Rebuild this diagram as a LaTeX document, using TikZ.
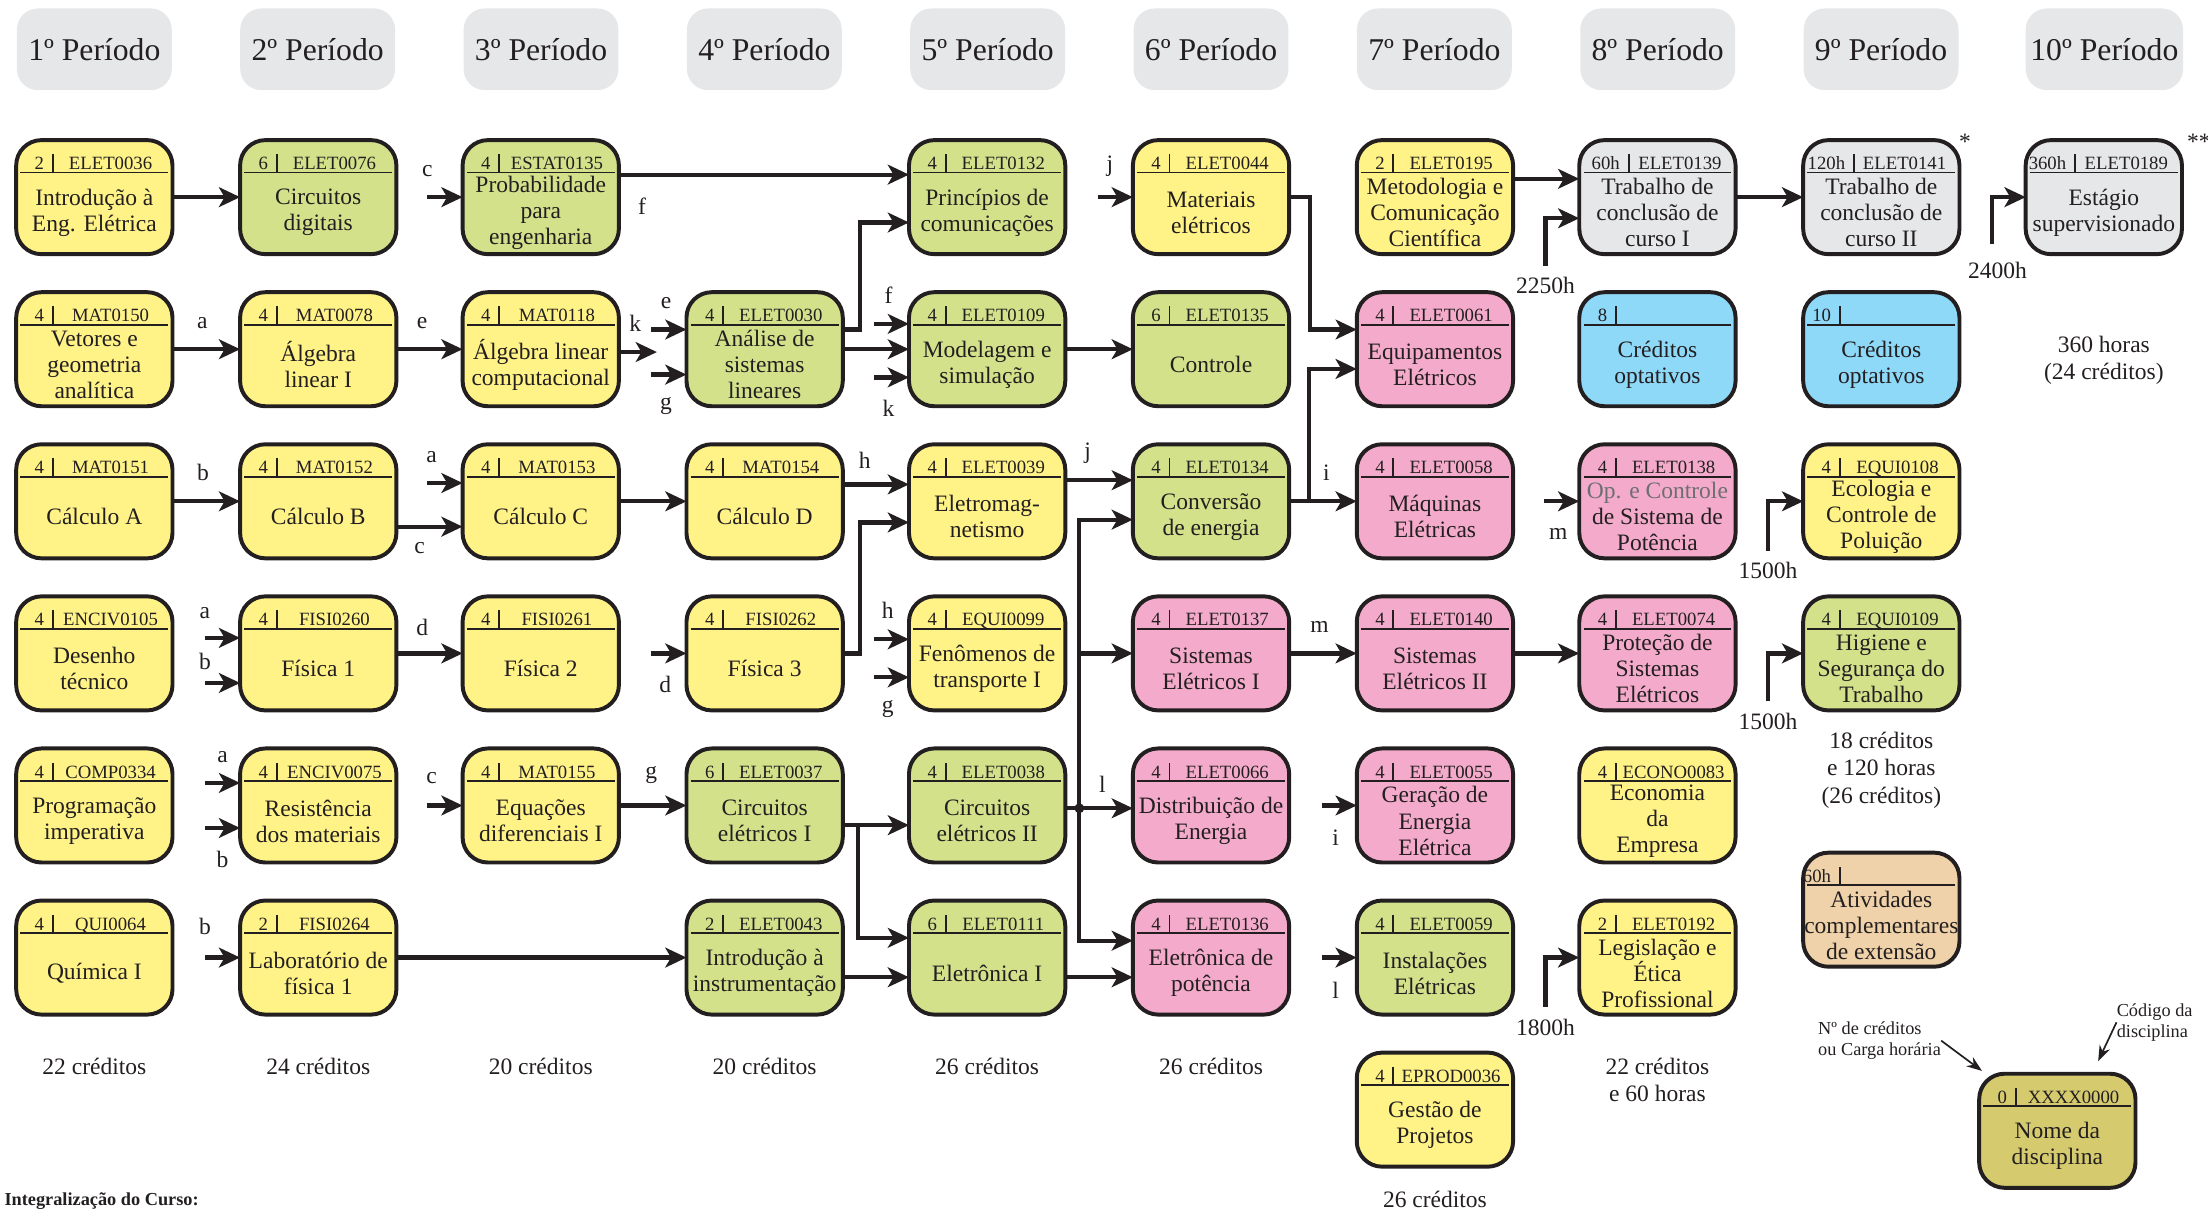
\documentclass[tikz,border=0pt]{standalone}
\usepackage{fontspec}
\setmainfont{Liberation Serif}
\usetikzlibrary{arrows.meta}
\definecolor{txt}{HTML}{231F20}
\definecolor{yel}{HTML}{FFF387}
\definecolor{grn}{HTML}{D3E18B}
\definecolor{pnk}{HTML}{F4ABCB}
\definecolor{blu}{HTML}{8ED8F8}
\definecolor{gry}{HTML}{E6E7E8}
\definecolor{bge}{HTML}{EFD2A9}
\definecolor{olv}{HTML}{D5CB6E}
\definecolor{dim}{HTML}{6D6E71}
\tikzset{
  disc/.style={draw=txt,line width=2.8pt,rounded corners=18pt,minimum width=111pt,minimum height=81pt,inner sep=0pt,outer sep=0pt},
  ttl/.style={font=\fontsize{16.7}{18.5}\selectfont,align=center,inner sep=0pt,text=txt},
  codetxt/.style={font=\fontsize{13.3}{15}\selectfont,inner sep=0pt,anchor=base,text=txt},
  hdr/.style={draw=txt,line width=1.4pt},
  per/.style={fill=gry,rounded corners=15pt,minimum width=110pt,minimum height=58pt,font=\fontsize{22.5}{27}\selectfont,text=txt},
  arr/.style={draw=txt,line width=3pt,-{Stealth[length=15pt,width=14pt,inset=4pt]}},
  lbl/.style={font=\fontsize{16.7}{18.5}\selectfont,inner sep=0pt,text=txt},
  note/.style={font=\fontsize{16.7}{19.3}\selectfont,align=center,inner sep=0pt,text=txt},
  smalltxt/.style={font=\fontsize{13}{15}\selectfont,align=left,inner sep=0pt,text=txt},
  pointer/.style={draw=txt,line width=1.2pt,-{Stealth[length=11pt,width=8pt]}}
}
\newcommand\course[7][26]{%
  \node[disc,fill=#4] (#2) at (#3) {};
  \node[ttl] (#2-t) at ([yshift=-11pt]#2.center) {#7};
  \draw[hdr] ([xshift=3pt,yshift=-23pt]#2.north west) -- ([xshift=-3pt,yshift=-23pt]#2.north east);
  \draw[hdr] ([xshift=#1pt,yshift=-23pt]#2.north west) -- ++(0,13pt);
  \node[codetxt,anchor=base east] (#2-c) at ([xshift=#1pt-6pt,yshift=-21pt]#2.north west) {#5};
  \node[codetxt] (#2-k) at ([xshift={(#1+108)*0.5pt},yshift=-21pt]#2.north west) {#6};
}
\begin{document}
\begin{tikzpicture}[x=1pt,y=-1pt]
\useasboundingbox (0,0) rectangle (1568,859);
\foreach \n in {1,...,10}
  \node[per] (per\n) at ({67+158.6*(\n-1)},35) {\n º Período};

\course{elet0036}{67,140}{yel}{2}{ELET0036}{Introdução à\\Eng. Elétrica}
\course{mat0150}{67,248}{yel}{4}{MAT0150}{Vetores e\\geometria\\analítica}
\course{mat0151}{67,356}{yel}{4}{MAT0151}{Cálculo A}
\course{enciv0105}{67,464}{yel}{4}{ENCIV0105}{Desenho\\técnico}
\course{comp0334}{67,572}{yel}{4}{COMP0334}{Programação\\imperativa}
\course{qui0064}{67,680}{yel}{4}{QUI0064}{Química I}

\course{elet0076}{226,140}{grn}{6}{ELET0076}{Circuitos\\digitais}
\course{mat0078}{226,248}{yel}{4}{MAT0078}{Álgebra\\linear I}
\course{mat0152}{226,356}{yel}{4}{MAT0152}{Cálculo B}
\course{fisi0260}{226,464}{yel}{4}{FISI0260}{Física 1}
\course{enciv0075}{226,572}{yel}{4}{ENCIV0075}{Resistência\\dos materiais}
\course{fisi0264}{226,680}{yel}{2}{FISI0264}{Laboratório de\\física 1}

\course{estat0135}{384,140}{grn}{4}{ESTAT0135}{Probabilidade\\para\\engenharia}
\course{mat0118}{384,248}{yel}{4}{MAT0118}{Álgebra linear\\computacional}
\course{mat0153}{384,356}{yel}{4}{MAT0153}{Cálculo C}
\course{fisi0261}{384,464}{yel}{4}{FISI0261}{Física 2}
\course{mat0155}{384,572}{yel}{4}{MAT0155}{Equações\\diferenciais I}

\course{elet0030}{543,248}{grn}{4}{ELET0030}{Análise de\\sistemas\\lineares}
\course{mat0154}{543,356}{yel}{4}{MAT0154}{Cálculo D}
\course{fisi0262}{543,464}{yel}{4}{FISI0262}{Física 3}
\course{elet0037}{543,572}{grn}{6}{ELET0037}{Circuitos\\elétricos I}
\course{elet0043}{543,680}{grn}{2}{ELET0043}{Introdução à\\instrumentação}

\course{elet0132}{701,140}{grn}{4}{ELET0132}{Princípios de\\comunicações}
\course{elet0109}{701,248}{grn}{4}{ELET0109}{Modelagem e\\simulação}
\course{elet0039}{701,356}{yel}{4}{ELET0039}{Eletromag-\\netismo}
\course{equi0099}{701,464}{yel}{4}{EQUI0099}{Fenômenos de\\transporte I}
\course{elet0038}{701,572}{grn}{4}{ELET0038}{Circuitos\\elétricos II}
\course{elet0111}{701,680}{grn}{6}{ELET0111}{Eletrônica I}

\course{elet0044}{860,140}{yel}{4}{ELET0044}{Materiais\\elétricos}
\course{elet0135}{860,248}{grn}{6}{ELET0135}{Controle}
\course{elet0134}{860,356}{grn}{4}{ELET0134}{Conversão\\de energia}
\course{elet0137}{860,464}{pnk}{4}{ELET0137}{Sistemas\\Elétricos I}
\course{elet0066}{860,572}{pnk}{4}{ELET0066}{Distribuição de\\Energia}
\course{elet0136}{860,680}{pnk}{4}{ELET0136}{Eletrônica de\\potência}

\course{elet0195}{1019,140}{yel}{2}{ELET0195}{Metodologia e\\Comunicação\\Científica}
\course{elet0061}{1019,248}{pnk}{4}{ELET0061}{Equipamentos\\Elétricos}
\course{elet0058}{1019,356}{pnk}{4}{ELET0058}{Máquinas\\Elétricas}
\course{elet0140}{1019,464}{pnk}{4}{ELET0140}{Sistemas\\Elétricos II}
\course{elet0055}{1019,572}{pnk}{4}{ELET0055}{Geração de\\Energia\\Elétrica}
\course{elet0059}{1019,680}{grn}{4}{ELET0059}{Instalações\\Elétricas}
\course{eprod0036}{1019,788}{yel}{4}{EPROD0036}{Gestão de\\Projetos}

\course[35]{elet0139}{1177,140}{gry}{60h}{ELET0139}{Trabalho de\\conclusão de\\curso I}
\course{opt8}{1177,248}{blu}{8}{}{Créditos\\optativos}
\course{elet0138}{1177,356}{pnk}{4}{ELET0138}{\color{dim}Op. e Controle\\de Sistema de\\Potência}
\course{elet0074}{1177,464}{pnk}{4}{ELET0074}{Proteção de\\Sistemas\\Elétricos}
\course{econo0083}{1177,572}{yel}{4}{ECONO0083}{Economia\\da\\Empresa}
\course{elet0192}{1177,680}{yel}{2}{ELET0192}{Legislação e\\Ética\\Profissional}

\course[36]{elet0141}{1336,140}{gry}{120h}{ELET0141}{Trabalho de\\conclusão de\\curso II}
\course{opt10}{1336,248}{blu}{10}{}{Créditos\\optativos}
\course{equi0108}{1336,356}{yel}{4}{EQUI0108}{Ecologia e\\Controle de\\Poluição}
\course{equi0109}{1336,464}{grn}{4}{EQUI0109}{Higiene e\\Segurança do\\Trabalho}
\course{ext}{1336,646}{bge}{60h}{}{Atividades\\complementares\\de extensão}

\course[35]{elet0189}{1494,140}{gry}{360h}{ELET0189}{Estágio\\supervisionado}
\course{model}{1461,803}{olv}{0}{XXXX0000}{Nome da\\disciplina}

\draw[arr] (elet0036) -- (elet0076);
\draw[arr] ([xshift=-25pt]estat0135.west) node[lbl,above=13pt]{c} -- (estat0135.west);
\draw[arr] ([yshift=16pt]estat0135.east) -- node[lbl,below=15pt,pos=.08]{f} ([yshift=16pt]elet0132.west);
\draw[arr] ([yshift=14pt]elet0030.east) -- ++(12pt,0) |- ([yshift=-18pt]elet0132.west);
\draw[arr] ([xshift=-25pt]elet0044.west) -- node[lbl,above=13pt,pos=.35]{j} (elet0044.west);
\draw[arr] (elet0044.east) -- ++(15pt,0) |- ([yshift=14pt]elet0061.west);
\draw[arr] ([yshift=13pt]elet0195.east) -- ([yshift=13pt]elet0139.west);
\draw[arr] ([xshift=-24pt,yshift=-49pt]elet0139.west) node[lbl,below=6pt]{2250h} |- ([yshift=-15pt]elet0139.west);
\draw[arr] (elet0139) -- (elet0141);
\draw[arr] ([xshift=-24pt,yshift=-33pt]elet0189.west) node[lbl,below=12pt,xshift=4pt]{2400h} |- (elet0189.west);

\draw[arr] (mat0150) -- node[lbl,above=13pt,pos=.44]{a} (mat0078);
\draw[arr] (mat0078) -- node[lbl,above=13pt,pos=.39]{e} (mat0118);
\draw[arr] ([yshift=-2pt]mat0118.east) -- node[lbl,above=13pt,pos=.43]{k} ++(27pt,0);
\draw[arr] ([xshift=-25pt,yshift=14pt]elet0030.west) -- node[lbl,above=13pt,pos=.42]{e} ([yshift=14pt]elet0030.west);
\draw[arr] ([xshift=-25pt,yshift=-18pt]elet0030.west) -- node[lbl,below=15pt,pos=.42]{g} ([yshift=-18pt]elet0030.west);
\draw[arr] (elet0030) -- (elet0109);
\draw[arr] ([xshift=-25pt,yshift=18pt]elet0109.west) -- node[lbl,above=13pt,pos=.42]{f} ([yshift=18pt]elet0109.west);
\draw[arr] ([xshift=-25pt,yshift=-20pt]elet0109.west) -- node[lbl,below=15pt,pos=.42]{k} ([yshift=-20pt]elet0109.west);
\draw[arr] (elet0109) -- (elet0135);
\draw[arr] (elet0134.east) -- ++(14pt,0) |- ([yshift=-14pt]elet0061.west);

\draw[arr] (mat0151) -- node[lbl,above=13pt,pos=.45]{b} (mat0152);
\draw[arr] ([xshift=-25pt,yshift=13pt]mat0153.west) node[lbl,above=13pt,xshift=3pt]{a} -- ([yshift=13pt]mat0153.west);
\draw[arr] ([yshift=-18pt]mat0152.east) -- node[lbl,below=10pt,pos=.35]{c} ([yshift=-18pt]mat0153.west);
\draw[arr] (mat0153) -- (mat0154);
\draw[arr] ([yshift=12pt]mat0154.east) -- node[lbl,above=10pt,pos=.33]{h} ([yshift=12pt]elet0039.west);
\draw[arr] (fisi0262.east) -- ++(12pt,0) |- ([yshift=-15pt]elet0039.west);
\draw[arr] ([yshift=15pt]elet0039.east) -- node[lbl,above=10pt,pos=.33]{j} ([yshift=15pt]elet0134.west);
\draw[arr] (elet0134) -- node[lbl,above=13pt,pos=.55]{i} (elet0058);
\draw[arr] ([xshift=-25pt]elet0138.west) -- node[lbl,below=18pt,pos=.4]{m} (elet0138.west);
\draw[arr] ([xshift=-25pt,yshift=-35pt]equi0108.west) node[lbl,below=7pt]{1500h} |- (equi0108.west);

\draw[arr] ([xshift=-25pt,yshift=11pt]fisi0260.west) node[lbl,above=12pt]{a} -- ([yshift=11pt]fisi0260.west);
\draw[arr] ([xshift=-25pt,yshift=-21pt]fisi0260.west) node[lbl,above=8pt]{b} -- ([yshift=-21pt]fisi0260.west);
\draw[arr] (fisi0260) -- node[lbl,above=11pt,pos=.39]{d} (fisi0261);
\draw[arr] ([xshift=-25pt]fisi0262.west) -- node[lbl,below=15pt,pos=.4]{d} (fisi0262.west);
\draw[arr] ([xshift=-25pt,yshift=10pt]equi0099.west) -- node[lbl,above=13pt,pos=.4]{h} ([yshift=10pt]equi0099.west);
\draw[arr] ([xshift=-25pt,yshift=-17pt]equi0099.west) -- node[lbl,below=15pt,pos=.4]{g} ([yshift=-17pt]equi0099.west);
\draw[arr] (elet0137) -- node[lbl,above=13pt,pos=.45]{m} (elet0140);
\draw[arr] (elet0140) -- (elet0074);
\draw[arr] ([xshift=-25pt,yshift=-34pt]equi0109.west) node[lbl,below=7pt]{1500h} |- (equi0109.west);

\draw[arr] ([xshift=-25pt,yshift=16pt]enciv0075.west) -- node[lbl,above=13pt,pos=.5]{a} ([yshift=16pt]enciv0075.west);
\draw[arr] ([xshift=-25pt,yshift=-16pt]enciv0075.west) -- node[lbl,below=15pt,pos=.5]{b} ([yshift=-16pt]enciv0075.west);
\draw[arr] ([xshift=-25pt]mat0155.west) node[lbl,above=14pt,xshift=3pt]{c} -- (mat0155.west);
\draw[arr] (mat0155) -- node[lbl,above=14pt,pos=.48]{g} (elet0037);
\draw[arr] ([yshift=-14pt]elet0037.east) -- ([yshift=-14pt]elet0038.west);
\draw[arr] ([yshift=-14pt]elet0037.east) -- ++(11pt,0) |- ([yshift=14pt]elet0111.west);
\coordinate (bus) at ([xshift=10pt,yshift=-2pt]elet0038.east);
\draw[arr] ([yshift=-2pt]elet0038.east) -- node[lbl,above=10pt,pos=.55]{l} ([yshift=-2pt]elet0066.west);
\draw[arr] (bus) |- ([yshift=-13pt]elet0134.west);
\draw[arr] (bus) |- (elet0137.west);
\draw[arr] (bus) |- ([yshift=12pt]elet0136.west);
\fill[txt] (bus) circle (3.5pt);
\draw[arr] ([xshift=-25pt]elet0055.west) -- node[lbl,below=16pt,pos=.4]{i} (elet0055.west);

\draw[arr] ([xshift=-25pt]fisi0264.west) node[lbl,above=15pt]{b} -- (fisi0264.west);
\draw[arr] (fisi0264) -- (elet0043);
\draw[arr] ([yshift=-14pt]elet0043.east) -- ([yshift=-14pt]elet0111.west);
\draw[arr] ([yshift=-14pt]elet0111.east) -- ([yshift=-14pt]elet0136.west);
\draw[arr] ([xshift=-25pt]elet0059.west) -- node[lbl,below=16pt,pos=.4]{l} (elet0059.west);
\draw[arr] ([xshift=-24pt,yshift=-35pt]elet0192.west) node[lbl,below=7pt]{1800h} |- (elet0192.west);

\foreach \x/\credit [count=\n] in {67/22,226/24,384/20,543/20,701/26,860/26}
  \node[note] (cred\n) at (\x,757) {\credit\ créditos};
\node[note] (cred7) at (1019,852) {26 créditos};
\node[note] (cred8) at (1177,767) {22 créditos\\e 60 horas};
\node[note] (cred9) at (1336,547) {18 créditos\\e 120 horas\\(26 créditos)};
\node[note] (cred10) at (1494,256) {360 horas\\(24 créditos)};
\node[lbl] (star1) at ([xshift=4pt,yshift=-1.5pt]elet0141.north east) {*};
\node[lbl] (star2) at ([xshift=12pt,yshift=-1.5pt]elet0189.north east) {**};
\node[smalltxt,anchor=west] (ncred) at (1291,739) {Nº de créditos\\ou Carga horária};
\node[smalltxt,anchor=west] (cod) at (1503,726) {Código da\\disciplina};
\draw[pointer] (ncred.east) -- ([xshift=2pt,yshift=2pt]model.north west);
\draw[pointer] (cod.west) -- ([xshift=29pt,yshift=9pt]model.north);
\node[anchor=west,inner sep=0pt,text=txt,font=\bfseries\fontsize{13}{15}\selectfont] (integ) at (3,853) {Integralização do Curso:};
\end{tikzpicture}
\end{document}
